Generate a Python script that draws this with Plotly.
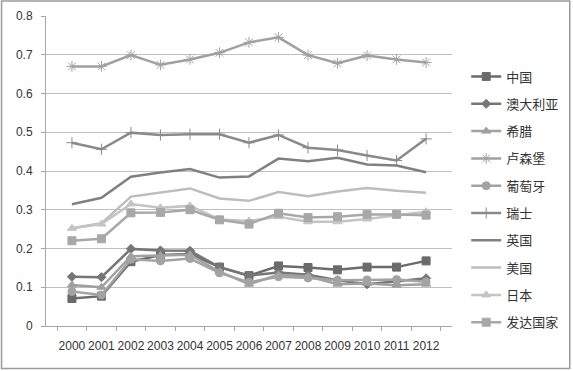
import plotly.graph_objects as go

years = [str(y) for y in range(2000, 2013)]

china      = [0.071, 0.077, 0.166, 0.183, 0.186, 0.152, 0.130, 0.155, 0.151, 0.145, 0.152, 0.152, 0.168]
australia  = [0.127, 0.126, 0.199, 0.195, 0.194, 0.152, 0.130, 0.138, 0.132, 0.118, 0.108, 0.115, 0.123]
greece     = [0.106, 0.100, 0.180, 0.182, 0.184, 0.140, 0.108, 0.132, 0.128, 0.108, 0.110, 0.105, 0.108]
luxembourg = [0.670, 0.670, 0.699, 0.674, 0.688, 0.705, 0.732, 0.745, 0.699, 0.678, 0.698, 0.688, 0.680]
portugal   = [0.089, 0.080, 0.172, 0.168, 0.174, 0.137, 0.113, 0.127, 0.124, 0.118, 0.119, 0.120, 0.114]
swiss      = [0.473, 0.456, 0.499, 0.493, 0.495, 0.495, 0.473, 0.493, 0.460, 0.454, 0.440, 0.427, 0.483]
uk         = [0.314, 0.331, 0.385, 0.396, 0.405, 0.383, 0.386, 0.432, 0.425, 0.434, 0.417, 0.414, 0.397]
usa        = [0.252, 0.265, 0.334, 0.344, 0.355, 0.329, 0.323, 0.346, 0.335, 0.347, 0.356, 0.349, 0.344]
japan      = [0.252, 0.263, 0.315, 0.305, 0.310, 0.275, 0.271, 0.282, 0.269, 0.269, 0.276, 0.286, 0.295]
developed  = [0.220, 0.225, 0.292, 0.293, 0.300, 0.274, 0.263, 0.291, 0.280, 0.282, 0.288, 0.288, 0.286]

series = [
    ("中国", china, "#6b6b6b", "square", 8),
    ("澳大利亚", australia, "#767676", "diamond", 7),
    ("希腊", greece, "#a0a0a0", "triangle-up", 8),
    ("卢森堡", luxembourg, "#a0a0a0", "asterisk-open", 9),
    ("葡萄牙", portugal, "#a3a3a3", "circle", 8),
    ("瑞士", swiss, "#8a8a8a", "cross-thin-open", 8),
    ("英国", uk, "#808080", None, 0),
    ("美国", usa, "#bdbdbd", None, 0),
    ("日本", japan, "#c4c4c4", "triangle-up", 8),
    ("发达国家", developed, "#a8a8a8", "square", 8),
]

fig = go.Figure()
for i, (name, vals, col, sym, sz) in enumerate(series):
    if sym:
        mode = "lines+markers"
        marker = dict(symbol=sym, size=sz, color=col, line=dict(color=col, width=1))
    else:
        mode = "lines"
        marker = None
    fig.add_trace(go.Scatter(
        x=years, y=vals, name=name, mode=mode,
        line=dict(color=col, width=2.5),
        marker=marker, legendgroup=f"g{i}",
    ))

fig.update_layout(
    width=573, height=371,
    margin=dict(l=46, r=121, t=16, b=45, autoexpand=False),
    paper_bgcolor="white", plot_bgcolor="white",
    font=dict(family="Noto Sans CJK SC, DejaVu Sans, sans-serif", size=11, color="#333333"),
    legend=dict(
        x=1.035, y=0.853, xanchor="left", yanchor="top",
        traceorder="grouped", tracegroupgap=7.4,
        font=dict(size=13, color="#333333"),
        itemwidth=30, bgcolor="rgba(0,0,0,0)",
    ),
    xaxis=dict(
        type="category", showgrid=False, showline=True, linecolor="#a6a6a6",
        ticks="outside", tickson="boundaries", ticklen=4, tickcolor="#a6a6a6",
        tickangle=0, automargin=False, ticklabelstandoff=9,
        tickfont=dict(family="Liberation Sans, sans-serif", size=12, color="#333333"),
    ),
    yaxis=dict(
        range=[0, 0.8], dtick=0.1, showgrid=True, gridcolor="#c0c0c0", gridwidth=1,
        showline=True, linecolor="#a6a6a6", ticks="outside", ticklen=4, tickcolor="#a6a6a6",
        zeroline=False, automargin=False, ticklabelstandoff=6,
        tickfont=dict(family="Liberation Sans, sans-serif", size=12, color="#333333"),
    ),
    shapes=[dict(
        type="rect", xref="paper", yref="paper",
        x0=-0.1095, x1=1.2900, y0=-0.1370, y1=1.0480,
        line=dict(color="#9a9a9a", width=1.5), fillcolor="rgba(0,0,0,0)", layer="below",
    )],
)

fig.write_html("out.html", config={"displayModeBar": False},
               post_script="document.body.style.margin='0px';")
